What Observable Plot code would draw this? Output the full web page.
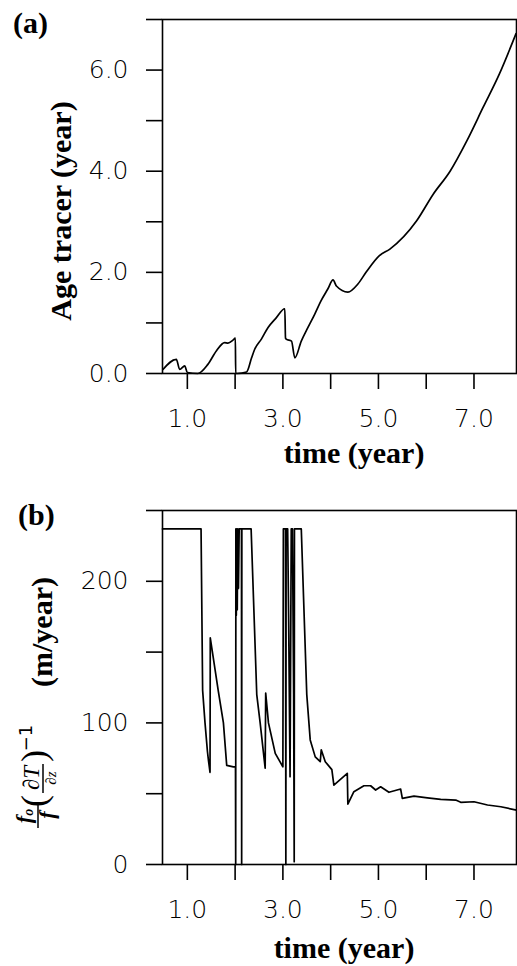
<!DOCTYPE html>
<html><head><meta charset="utf-8">
<script src="https://cdn.jsdelivr.net/npm/d3@7"></script>
<script src="https://cdn.jsdelivr.net/npm/@observablehq/plot@0.6"></script>
<style>
html,body{margin:0;padding:0;background:#fff;overflow:hidden;}
#wrap{position:relative;width:517px;height:966px;background:#fff;}
#wrap svg{position:absolute;left:0;overflow:visible;}
</style></head><body><div id="wrap"></div>
<script>
// ---- data ----
const timeA = [0.49,0.77,0.84,0.945,1.0,1.22,1.43,1.61,1.78,1.85,1.956,2.005,2.012,2.046,2.24,2.345,2.41,2.55,2.69,2.86,3.04,3.055,3.07,3.18,3.25,3.385,3.525,3.665,3.80,3.94,4.05,4.12,4.36,4.57,4.74,5.02,5.24,5.80,6.15,6.50,6.85,7.19,7.53,7.88];
const ageA  = [0.08,0.28,0.08,0.15,0.02,0.0,0.18,0.45,0.61,0.60,0.66,0.70,0.0,0.0,0.03,0.31,0.48,0.68,0.91,1.10,1.28,0.70,0.68,0.64,0.31,0.64,0.91,1.17,1.44,1.67,1.85,1.73,1.61,1.77,2.0,2.33,2.46,3.02,3.55,4.0,4.6,5.26,5.92,6.72];

const timeB = [0.48,1.287,1.32,1.37,1.42,1.44,1.475,1.48,1.65,1.755,1.824,1.964,2.008,2.012,2.016,2.025,2.035,2.045,2.055,2.07,2.085,2.133,2.137,2.141,2.335,2.453,2.524,2.629,2.64,2.698,2.84,3.0,3.01,3.055,3.062,3.068,3.10,3.12,3.15,3.175,3.2,3.225,3.237,3.242,3.385,3.50,3.572,3.677,3.782,3.803,3.887,4.025,4.067,4.348,4.36,4.486,4.696,4.836,4.941,5.046,5.22,5.465,5.5,5.744,6.025,6.304,6.618,6.723,7.0,7.283,7.562,7.89];
const velB  = [237,237,123,100,80,74,65,160,122,100,70,69,69,0,237,176,237,180,237,195,237,237,0,237,237,120,100,68,121,100,78.5,69,237,237,0,237,237,175,62,237,237,120,2,237,237,120,88,76,72.6,81,72.6,67,56,64.4,42.7,51.4,55.6,55.6,52.6,54.9,51,53.3,46.7,48.3,47.1,46,45.5,43.9,44.3,42,40.8,38.4];

const xTicks = [1,2,3,4,5,6,7];
const xTickLabels = {1:"1.0",3:"3.0",5:"5.0",7:"7.0"};
const yTicksA = [0,1,2,3,4,5,6,7];
const yTickLabelsA = {0:"0.0",2:"2.0",4:"4.0",6:"6.0"};
const yTicksB = [0,50,100,150,200,250];
const yTickLabelsB = {0:"0",100:"100",200:"200"};
const xDomain = [0.48, 7.89];

const rowsA = timeA.map((t,i)=>({t, v: ageA[i]}));
const rowsB = timeB.map((t,i)=>({t, v: velB[i]}));

const SERIF = "'Liberation Serif','Times New Roman',serif";
const SANS = "'DejaVu Sans',sans-serif";
const tickFont = 25;

function panel(rows, yDomain, yTicks, yLabels, height, mt, mb, curve) {
  return Plot.plot({
    width: 517, height, marginLeft: 162, marginRight: 1, marginTop: mt, marginBottom: mb,
    style: {fontFamily: SANS, fontSize: tickFont + "px", color: "black", background: "white", overflow: "visible"},
    x: {domain: xDomain, label: null},
    y: {domain: yDomain, label: null},
    marks: [
      Plot.line(rows, {x: "t", y: "v", stroke: "black", strokeWidth: 1.7, strokeLinejoin: "round", curve}),
      Plot.frame({stroke: "black", strokeWidth: 1.6}),
      Plot.axisX({ticks: xTicks, tickSize: 16, tickPadding: 20, strokeWidth: 1.6, fontSize: tickFont, fontWeight: 200,
        tickFormat: d => xTickLabels[d] ?? "", label: null}),
      Plot.axisY({ticks: yTicks, tickSize: 16, tickPadding: 18, strokeWidth: 1.6, fontSize: tickFont, fontWeight: 200,
        tickFormat: d => yLabels[d] ?? "", label: null})
    ]
  });
}

const wrap = document.getElementById("wrap");
const plotA = panel(rowsA, [0,7], yTicksA, yTickLabelsA, 480, 19, 107, "monotone-x");
plotA.style.top = "0px";
wrap.appendChild(plotA);
const plotB = panel(rowsB, [0,250], yTicksB, yTickLabelsB, 486, 30, 102, "linear");
plotB.style.top = "480px";
wrap.appendChild(plotB);

function serifText(svg, txt, x, y, opts = {}) {
  const t = svg.append("text").text(txt)
    .style("font-family", SERIF).style("font-weight", "bold").style("font-size", (opts.size || 30) + "px")
    .attr("fill", "black").attr("text-anchor", opts.anchor || "start");
  if (opts.rotate) t.attr("transform", `translate(${x},${y}) rotate(-90)`);
  else t.attr("x", x).attr("y", y);
  return t;
}

const sA = d3.select(plotA);
serifText(sA, "(a)", 13, 33);
serifText(sA, "Age tracer (year)", 71, 211, {rotate: true, anchor: "middle"});
serifText(sA, "time (year)", 354, 463, {anchor: "middle"});

const sB = d3.select(plotB);
serifText(sB, "(b)", 18, 45);
serifText(sB, "(m/year)", 52, 152, {rotate: true, anchor: "middle"});
serifText(sB, "time (year)", 344, 478, {anchor: "middle"});

// fraction label  (f_o / f) (dT/dz)^-1, rotated
const g = sB.append("g").attr("transform", "rotate(-90)");
function mt(txt, x, y, size, opts = {}) {
  return g.append("text").attr("x", x).attr("y", y).attr("text-anchor", opts.anchor || "middle")
    .style("font-family", opts.family || SERIF).style("font-size", size + "px")
    .style("font-style", opts.italic ? "italic" : "normal").style("font-weight", opts.bold ? "bold" : "normal")
    .attr("fill", "black").text(txt);
}
// f_o over f
const num = g.append("text").attr("x", -336).attr("y", 31).attr("text-anchor", "middle")
  .style("font-family", SERIF).style("font-size", "22px").style("font-style", "italic").style("font-weight", "bold").attr("fill", "black");
num.append("tspan").text("f");
num.append("tspan").attr("dy", 2).style("font-size", "14px").text("o");
g.append("line").attr("x1", -348).attr("x2", -322).attr("y1", 38).attr("y2", 38).attr("stroke", "black").attr("stroke-width", 1.5);
mt("f", -335, 54, 22, {italic: true, bold: true});
// parenthesis
mt("(", -321, 46, 36, {});
// dT over dz
mt("\u2202T", -298, 39, 23, {italic: true});
g.append("line").attr("x1", -313).attr("x2", -284).attr("y1", 43).attr("y2", 43).attr("stroke", "black").attr("stroke-width", 1.5);
mt("\u2202z", -298, 56, 15, {italic: true});
mt(")", -276, 46, 36, {});
mt("\u22121", -258, 32, 18, {family: SANS});
</script></body></html>
